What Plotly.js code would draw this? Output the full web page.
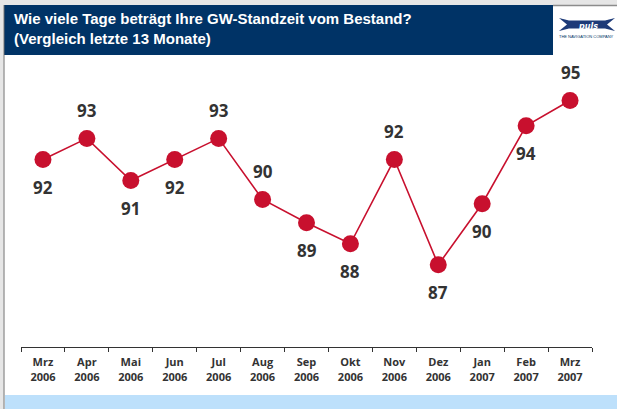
<!DOCTYPE html>
<html>
<head>
<meta charset="utf-8">
<script src="https://cdn.plot.ly/plotly-3.0.1.min.js"></script>
<style>
html,body{margin:0;padding:0;background:#fff;}
#chart{width:617px;height:409px;}
</style>
</head>
<body>
<div id="chart"></div>
<script>
// ---- data ----
const months = ['Mrz 2006','Apr 2006','Mai 2006','Jun 2006','Jul 2006','Aug 2006','Sep 2006',
                'Okt 2006','Nov 2006','Dez 2006','Jan 2007','Feb 2007','Mrz 2007'];
const tickLabels = ['Mrz<br>2006','Apr<br>2006','Mai<br>2006','Jun<br>2006','Jul<br>2006','Aug<br>2006',
                    'Sep<br>2006','Okt<br>2006','Nov<br>2006','Dez<br>2006','Jan<br>2007','Feb<br>2007','Mrz<br>2007'];
const days = [92, 93, 91, 92, 93, 90.1, 89, 88, 92, 87, 89.9, 93.6, 94.8];
const dayLabels = ['92','93','91','92','93','90','89','88','92','87','90','94','95'];
const labelSide = ['below','above','below','below','above','above','below','below','above','below','below','below','above'];
const titleLine1 = 'Wie viele Tage beträgt Ihre GW-Standzeit vom Bestand?';
const titleLine2 = '(Vergleich letzte 13 Monate)';

// ---- layout helpers (pixel -> paper) ----
const W = 617, H = 409;
const M = {l: 21, r: 25, t: 60, b: 62};
const PW = W - M.l - M.r, PH = H - M.t - M.b;
const X = px => (px - M.l) / PW;
const Y = py => (H - M.b - py) / PH;

const red = '#c8102e';
const navy = '#003366';

const trace = {
  x: months, y: days, type: 'scatter', mode: 'lines+markers',
  line: {color: red, width: 1.6},
  marker: {color: red, size: 17},
  hoverinfo: 'skip'
};

const annotations = months.map((m, i) => ({
  x: m, y: days[i], xref: 'x', yref: 'y', text: dayLabels[i], showarrow: false,
  yshift: labelSide[i] === 'above' ? 28 : -28,
  font: {family: 'Open Sans', size: 17, color: '#333333', weight: 'bold'}
}));

annotations.push(
  {xref: 'paper', yref: 'paper', x: X(12), y: Y(18), xanchor: 'left', yanchor: 'middle',
   text: titleLine1, showarrow: false,
   font: {family: 'Liberation Sans', size: 15, color: '#ffffff', weight: 'bold'}},
  {xref: 'paper', yref: 'paper', x: X(12), y: Y(39), xanchor: 'left', yanchor: 'middle',
   text: titleLine2, showarrow: false,
   font: {family: 'Liberation Sans', size: 15, color: '#ffffff', weight: 'bold'}},
  {xref: 'paper', yref: 'paper', x: X(588), y: Y(24.5), xanchor: 'center', yanchor: 'middle',
   yshift: -1.5, borderpad: 0,
   text: '<i>puls</i>', showarrow: false,
   font: {family: 'DejaVu Sans', size: 8, color: '#ffffff', weight: 'bold'}},
  {xref: 'paper', yref: 'paper', x: X(586.5), y: Y(36.5), xanchor: 'center', yanchor: 'middle',
   text: 'THE NAVIGATION COMPANY', showarrow: false, borderpad: 0,
   font: {family: 'Liberation Sans', size: 4, color: navy}}
);

const pt = (px, py) => X(px) + ',' + Y(py);
const logoPath = 'M' + pt(559,18) + ' L' + pt(569,20.5) + ' L' + pt(605,20.5) + ' L' + pt(615,18) +
  ' L' + pt(607,24.5) + ' L' + pt(615,31) + ' L' + pt(605,28.5) + ' L' + pt(569,28.5) +
  ' L' + pt(559,31) + ' L' + pt(567,24.5) + ' Z';

const shapes = [
  {type: 'rect', xref: 'paper', yref: 'paper', x0: X(0), x1: X(617), y0: Y(0), y1: Y(5),
   fillcolor: '#e6e6e6', line: {width: 0}, layer: 'below'},
  {type: 'rect', xref: 'paper', yref: 'paper', x0: X(0), x1: X(3.5), y0: Y(0), y1: Y(409),
   fillcolor: '#e6e6e6', line: {width: 0}, layer: 'below'},
  {type: 'line', xref: 'paper', yref: 'paper', x0: X(4), x1: X(4), y0: Y(5), y1: Y(409),
   line: {color: '#6e6e6e', width: 1}},
  {type: 'rect', xref: 'paper', yref: 'paper', x0: X(4), x1: X(553), y0: Y(5), y1: Y(55),
   fillcolor: navy, line: {width: 0}, layer: 'below'},
  {type: 'line', xref: 'paper', yref: 'paper', x0: X(553), x1: X(617), y0: Y(5.5), y1: Y(5.5),
   line: {color: '#8c8c8c', width: 1.5}},
  {type: 'rect', xref: 'paper', yref: 'paper', x0: X(5), x1: X(617), y0: Y(395), y1: Y(409),
   fillcolor: '#bde0fb', line: {width: 0}, layer: 'below'},
  {type: 'path', xref: 'paper', yref: 'paper', path: logoPath,
   fillcolor: '#1d3a78', line: {width: 0}, layer: 'below'}
];

const layout = {
  width: W, height: H,
  margin: M,
  paper_bgcolor: '#ffffff', plot_bgcolor: 'rgba(0,0,0,0)',
  showlegend: false,
  xaxis: {
    type: 'category', range: [-0.5, 12.5],
    tickvals: months, ticktext: tickLabels,
    tickson: 'boundaries', ticks: 'outside', ticklen: 4, tickcolor: '#333333', tickwidth: 1,
    ticklabelstandoff: 5,
    showline: true, linecolor: '#333333', linewidth: 1,
    showgrid: false, zeroline: false, fixedrange: true,
    tickfont: {family: 'Open Sans', size: 11, color: '#333333', weight: 'bold'}
  },
  yaxis: {range: [83.1, 96.72], visible: false, fixedrange: true},
  annotations: annotations,
  shapes: shapes
};

Plotly.newPlot('chart', [trace], layout, {displayModeBar: false, staticPlot: true});
</script>
</body>
</html>
